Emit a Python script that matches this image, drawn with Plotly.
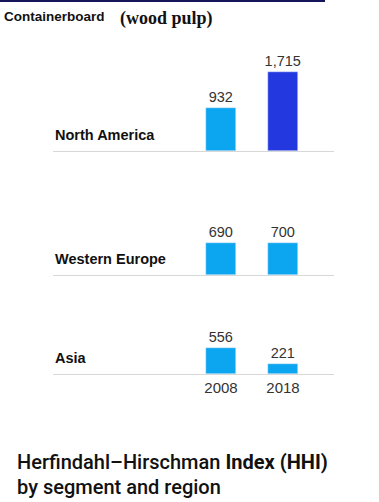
import plotly.graph_objects as go

years = ["2008", "2018"]
regions = ["North America", "Western Europe", "Asia"]
hhi = {
    "North America": [932, 1715],
    "Western Europe": [690, 700],
    "Asia": [556, 221],
}
colors = {
    "North America": ["#0BA5F0", "#2339DF"],
    "Western Europe": ["#0BA5F0", "#0BA5F0"],
    "Asia": ["#0BA5F0", "#0BA5F0"],
}

W, H = 379, 502
baselines = [151, 275, 374]
panel_h = 90
unit_per_px = 932 / 43.0
yr_max = panel_h * unit_per_px

fig = go.Figure()
x_left, x_right = 53, 334
ppu = 62.0
xr = [0 - (221 - x_left) / ppu, 1 + (x_right - 283) / ppu]

for i, reg in enumerate(regions):
    n = "" if i == 0 else str(i + 1)
    b = baselines[i]
    fig.add_trace(go.Bar(
        x=years, y=hhi[reg], marker_color=colors[reg], width=0.49,
        text=[f"{v:,}" for v in hhi[reg]], textposition="outside",
        constraintext="none",
        textfont=dict(family="Liberation Sans, Arial", size=14.5, color="#333333"),
        cliponaxis=False, showlegend=False,
        xaxis="x" + n, yaxis="y" + n,
    ))
    fig.layout["xaxis" + n] = dict(
        domain=[x_left / W, x_right / W], range=xr, type="category",
        anchor="y" + n, showgrid=False, zeroline=False,
        showline=True, linecolor="#d8d8d8", linewidth=1,
        showticklabels=(i == 2), ticks="",
        tickfont=dict(family="Liberation Sans, Arial", size=15, color="#333333"),
        fixedrange=True,
    )
    fig.layout["yaxis" + n] = dict(
        domain=[1 - b / H, 1 - (b - panel_h) / H], range=[0, yr_max],
        anchor="x" + n, showgrid=False, zeroline=False, showticklabels=False,
        fixedrange=True,
    )
    fig.add_annotation(
        x=x_left / W, y=1 - (b - 6) / H, xref="paper", yref="paper",
        text=f"<b>{reg}</b>", showarrow=False, xanchor="left", yanchor="bottom",
        font=dict(family="Liberation Sans, Arial", size=14.5, color="#111111"),
    )

fig.add_shape(type="line", xref="paper", yref="paper",
              x0=0, x1=325 / W, y0=1 - 1 / H, y1=1 - 1 / H,
              line=dict(color="#15155a", width=2))
fig.add_annotation(x=2 / W, y=1 - 17 / H, xref="paper", yref="paper",
                   text="<b>Containerboard</b>", showarrow=False,
                   xanchor="left", yanchor="middle",
                   font=dict(family="Liberation Sans, Arial", size=13.5, color="#111111"))
fig.add_annotation(x=118 / W, y=1 - 19 / H, xref="paper", yref="paper",
                   text="<b>(wood pulp)</b>", showarrow=False,
                   xanchor="left", yanchor="middle",
                   font=dict(family="Liberation Serif, Times New Roman", size=18, color="#111111"))
fig.add_annotation(x=15 / W, y=1 - 462 / H, xref="paper", yref="paper",
                   text="Herfindahl–Hirschman <b>Index (HHI)</b>", showarrow=False,
                   xanchor="left", yanchor="middle",
                   font=dict(family="Roboto", size=20, color="#111111", weight=500))
fig.add_annotation(x=15 / W, y=1 - 487 / H, xref="paper", yref="paper",
                   text="by segment and region", showarrow=False,
                   xanchor="left", yanchor="middle",
                   font=dict(family="Roboto", size=20, color="#111111", weight=500))

fig.update_layout(
    width=W, height=H, margin=dict(l=0, r=0, t=0, b=0),
    paper_bgcolor="white", plot_bgcolor="white", bargap=0,
)
fig.write_html("out.html", config={"displayModeBar": False},
               post_script="document.body.style.margin='0';")
